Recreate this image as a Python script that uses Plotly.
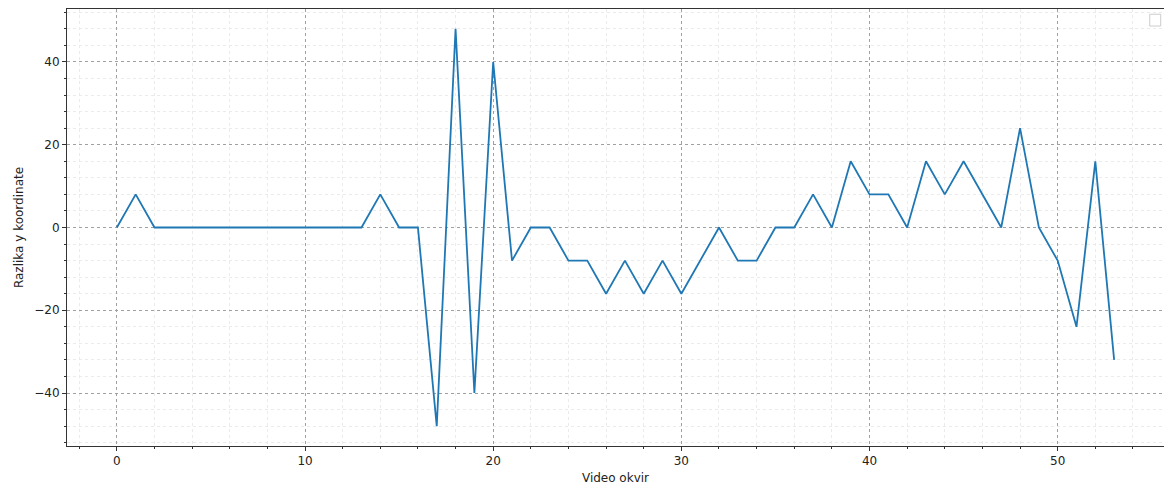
import plotly.graph_objects as go

# Frame index and vertical coordinate difference per frame
frames = list(range(54))
y_diff = [0, 8, 0, 0, 0, 0, 0, 0, 0, 0, 0, 0, 0, 0, 8, 0, 0, -48, 48, -40,
          40, -8, 0, 0, -8, -8, -16, -8, -16, -8, -16, -8, 0, -8, -8, 0, 0, 8, 0, 16,
          8, 8, 0, 16, 8, 16, 8, 0, 24, 0, -8, -24, 16, -32]

x_ticks = [0, 10, 20, 30, 40, 50]
y_ticks = [-40, -20, 0, 20, 40]
y_tick_text = ["\u221240", "\u221220", "0", "20", "40"]

fig = go.Figure()
fig.add_trace(go.Scatter(x=frames, y=y_diff, mode="lines",
                         line=dict(color="#1f77b4", width=1.8), showlegend=False))

axis_common = dict(
    showline=True, linecolor="#333333", linewidth=1, mirror=True,
    ticks="outside", ticklen=4, tickcolor="#333333", tickwidth=1,
    showgrid=True, gridcolor="#a0a0a0", gridwidth=0.6, griddash="dot",
    zeroline=False,
    tickfont=dict(family="DejaVu Sans", size=12, color="#222222"),
)

fig.update_xaxes(
    range=[-2.65, 55.65], tickvals=x_ticks,
    title=dict(text="Video okvir", font=dict(family="DejaVu Sans", size=12, color="#222222"), standoff=6),
    minor=dict(dtick=2, tick0=0, ticks="outside", ticklen=2, tickcolor="#333333",
               showgrid=True, gridcolor="#ebebeb", gridwidth=0.6),
    **axis_common,
)
fig.update_yaxes(
    range=[-52.8, 52.8], tickvals=y_ticks, ticktext=y_tick_text,
    title=dict(text="Razlika y koordinate", font=dict(family="DejaVu Sans", size=12, color="#222222"), standoff=8),
    minor=dict(dtick=4, tick0=0, ticks="outside", ticklen=2, tickcolor="#333333",
               showgrid=True, gridcolor="#ebebeb", gridwidth=0.6),
    **axis_common,
)

# empty legend frame in the upper right corner
fig.add_shape(type="rect", xref="paper", yref="paper",
              x0=0.987, x1=0.997, y0=0.961, y1=0.988,
              line=dict(color="#cccccc", width=1), fillcolor="white")

fig.update_layout(
    width=1164, height=486,
    margin=dict(l=67, r=0, t=9, b=40),
    plot_bgcolor="white", paper_bgcolor="white",
)

fig.write_html("out.html")
